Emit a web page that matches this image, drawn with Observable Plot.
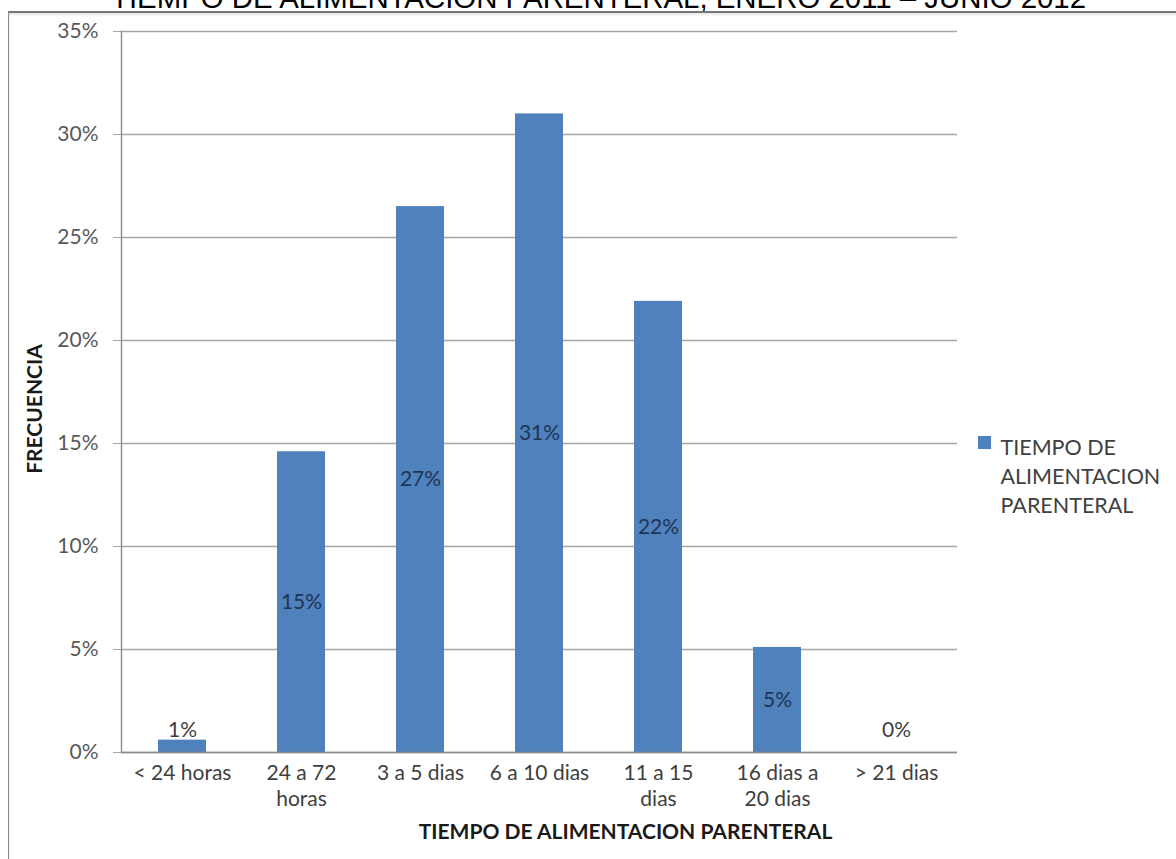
<!DOCTYPE html>
<html>
<head>
<meta charset="utf-8">
<script src="https://cdn.jsdelivr.net/npm/d3@7"></script>
<script src="https://cdn.jsdelivr.net/npm/@observablehq/plot@0.6"></script>
<style>
  html, body { margin: 0; padding: 0; background: #fff; }
  #chart { position: relative; width: 1176px; height: 859px; overflow: hidden; background: #fff; }
  #chart svg { position: absolute; left: 0; top: 0; }
  #border {
    position: absolute; left: 8px; top: 11px; width: 1300px; height: 1000px;
    border-left: 1.5px solid #8a8a8a; border-top: 2px solid #777;
    box-shadow: inset 0 2px 3px rgba(0,0,0,0.10);
    pointer-events: none; z-index: 2;
  }
</style>
</head>
<body>
<div id="chart"></div>
<script>
// Duration of parenteral feeding, share of patients per duration class (%)
const categories = ["< 24 horas", "24 a 72 horas", "3 a 5 dias", "6 a 10 dias", "11 a 15 dias", "16 dias a 20 dias", "> 21 dias"];
const tickLabels = ["< 24 horas", "24 a 72\nhoras", "3 a 5 dias", "6 a 10 dias", "11 a 15\ndias", "16 dias a\n20 dias", "> 21 dias"];
const frecuencia = [0.6, 14.6, 26.5, 31.0, 21.9, 5.1, 0];
const yTicks = [0, 5, 10, 15, 20, 25, 30, 35];

const title = "TIEMPO DE ALIMENTACION PARENTERAL, ENERO 2011 – JUNIO 2012";
const xTitle = "TIEMPO DE ALIMENTACION PARENTERAL";
const yTitle = "FRECUENCIA";
const seriesName = "TIEMPO DE\nALIMENTACION\nPARENTERAL";

const data = categories.map((c, i) => ({category: c, value: frecuencia[i]}));

const barColor = "#4f81bd";
const font = "Lato, Carlito, Calibri, sans-serif";
// labels sit mid-bar, but never lower than just above the baseline
const labelFloor = 1.1;
const labelY = d => Math.max(d.value / 2, labelFloor);

const chart = Plot.plot({
  width: 1176,
  height: 859,
  marginLeft: 121,
  marginRight: 219,
  marginTop: 31,
  marginBottom: 107,
  style: {fontFamily: font, background: "transparent", overflow: "visible"},
  x: {type: "band", domain: categories, paddingInner: 0.6, paddingOuter: 0.3},
  y: {domain: [0, 35]},
  marks: [
    Plot.gridY(yTicks, {stroke: "#a6a6a6", strokeOpacity: 1, strokeWidth: 1.4}),
    Plot.barY(data, {x: "category", y: "value", fill: barColor}),
    Plot.frame({anchor: "left", stroke: "#8c8c8c", strokeWidth: 1.4}),
    Plot.ruleY([0], {stroke: "#8c8c8c", strokeWidth: 1.4}),
    Plot.axisY({
      ticks: yTicks, tickFormat: d => d + "%", tickSize: 8, tickPadding: 15,
      fontSize: 21, fill: "#595959", stroke: "#a6a6a6", label: null
    }),
    Plot.axisX({
      tickSize: 0, tickPadding: 9, tickFormat: d => tickLabels[categories.indexOf(d)],
      fontSize: 21, lineHeight: 1.25, fill: "#404040", label: null
    }),
    Plot.text(data, {
      x: "category", y: labelY, text: d => Math.round(d.value) + "%",
      fontSize: 21, fill: d => d.value / 2 >= labelFloor ? "#1f3455" : "#404040"
    }),
    // chart title (runs past the top edge of the page)
    Plot.text([title], {
      frameAnchor: "top", dx: 59, dy: -24, lineAnchor: "bottom",
      fontSize: 29.4, fontFamily: "Liberation Sans, Arial, sans-serif", fill: "#000"
    }),
    // axis titles
    Plot.text([xTitle], {
      frameAnchor: "bottom", dx: 86, dy: 80, lineAnchor: "middle",
      fontSize: 21, fontWeight: "bold", fill: "#1a1a1a"
    }),
    Plot.text([yTitle], {
      frameAnchor: "left", dx: -86, dy: 17, rotate: -90, textAnchor: "middle",
      fontSize: 21, fontWeight: "bold", fill: "#1a1a1a"
    }),
    // legend
    Plot.dot([0], {
      frameAnchor: "right", dx: 27, dy: 50.5, symbol: "square", r: 7.4,
      fill: barColor, stroke: null
    }),
    Plot.text([seriesName], {
      frameAnchor: "right", dx: 43, dy: 42.5, textAnchor: "start", lineAnchor: "top",
      lineHeight: 1.34, fontSize: 21.5, fill: "#404040"
    })
  ]
});

const host = document.getElementById("chart");
host.appendChild(chart);
const border = document.createElement("div");
border.id = "border";
host.appendChild(border);
</script>
</body>
</html>
